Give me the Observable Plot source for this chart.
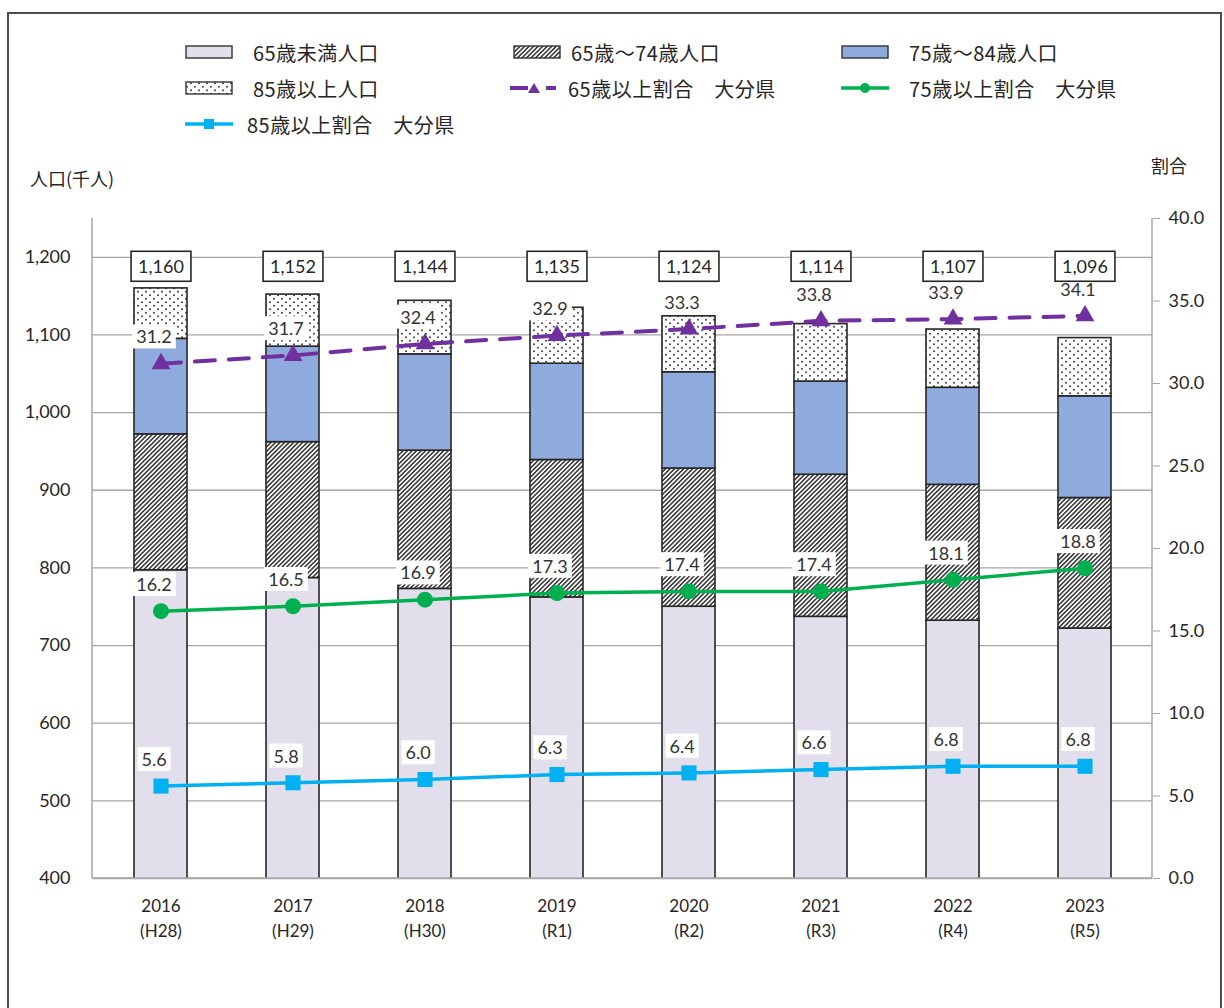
<!DOCTYPE html>
<html><head><meta charset="utf-8">
<script src="https://cdn.jsdelivr.net/npm/d3@7"></script>
<script src="https://cdn.jsdelivr.net/npm/@observablehq/plot@0.6"></script>
<style>
html,body{margin:0;padding:0;background:#fff;}
body{width:1224px;height:1008px;overflow:hidden;position:relative;font-family:"Noto Sans CJK JP","Noto Sans",sans-serif;color:#262626;}
#frame{position:absolute;left:7px;top:12px;width:1215px;height:1100px;border:2px solid #4d4d4d;border-bottom:none;box-sizing:border-box;pointer-events:none;}
#legend{position:relative;height:150px;width:1224px;}
.item{position:absolute;height:30px;display:flex;align-items:center;font-size:20px;letter-spacing:0.5px;white-space:nowrap;}
.axtitle{position:absolute;font-size:18px;white-space:nowrap;line-height:1;}
#chart{display:block;}
</style>
</head><body>
<svg width="0" height="0" style="position:absolute">
  <defs>
    <pattern id="hatch" width="3.2" height="3.2" patternUnits="userSpaceOnUse" patternTransform="rotate(45)">
      <rect width="3.2" height="3.2" fill="#fff"/>
      <line x1="1.6" y1="0" x2="1.6" y2="3.2" stroke="#1a1a1a" stroke-width="1.35"/>
    </pattern>
    <pattern id="dots" width="8" height="7" patternUnits="userSpaceOnUse">
      <rect width="8" height="7" fill="#fff"/>
      <circle cx="2" cy="1.75" r="0.95" fill="#333"/>
      <circle cx="6" cy="5.25" r="0.95" fill="#333"/>
    </pattern>
  </defs>
</svg>
<div id="frame"></div>
<div id="legend"></div>
<div id="chart"></div>
<script>
// ---------- data ----------
const years = ["2016","2017","2018","2019","2020","2021","2022","2023"];
const eras = ["H28","H29","H30","R1","R2","R3","R4","R5"];
const seriesNames = ["65歳未満人口","65歳～74歳人口","75歳～84歳人口","85歳以上人口"];
const under65 = [797,787,773,762,750,737,732,722];
const age65to74 = [175,175,178,177,178,183,175,168];
const age75to84 = [123,123,124,124,124,120,125,131];
const age85plus = [65,67,69,72,72,74,75,75];
const totals = [1160,1152,1144,1135,1124,1114,1107,1096];
const ratioNames = ["65歳以上割合　大分県","75歳以上割合　大分県","85歳以上割合　大分県"];
const ratio65 = [31.2,31.7,32.4,32.9,33.3,33.8,33.9,34.1];
const ratio75 = [16.2,16.5,16.9,17.3,17.4,17.4,18.1,18.8];
const ratio85 = [5.6,5.8,6.0,6.3,6.4,6.6,6.8,6.8];
const leftTicks = [400,500,600,700,800,900,1000,1100,1200];
const rightTicks = [0,5,10,15,20,25,30,35,40];

// ---------- styles ----------
const Y_MIN = 400, Y_MAX = 1250, R_MAX = 40;
const toLeft = r => Y_MIN + r * (Y_MAX - Y_MIN) / R_MAX;
const fills = {
  "65歳未満人口": "#E3DEEB",
  "65歳～74歳人口": "url(#hatch)",
  "75歳～84歳人口": "#8FAADC",
  "85歳以上人口": "url(#dots)"
};
const lineStyles = [
  {stroke:"#7030A0", dash:"20,14", symbol:"triangle", r:7},
  {stroke:"#00B050", dash:null, symbol:"circle", r:8},
  {stroke:"#00B0F0", dash:null, symbol:"square", r:8.5}
];

// ---------- tables ----------
const seriesValues = [under65, age65to74, age75to84, age85plus];
const barData = [];
seriesNames.forEach((s, i) => seriesValues[i].forEach((v, j) => barData.push({year: years[j], series: s, value: v})));
const totalData = years.map((y, j) => ({year: y, v: totals[j]}));
const ratioSeries = [ratio65, ratio75, ratio85].map(arr => years.map((y, j) => ({year: y, v: arr[j]})));

const lineMarks = [];
ratioSeries.forEach((data, i) => {
  const st = lineStyles[i];
  lineMarks.push(Plot.line(data, {x: "year", y: d => toLeft(d.v), stroke: st.stroke, strokeWidth: i === 0 ? 4 : 3.5, strokeDasharray: st.dash || undefined}));
  lineMarks.push(Plot.dot(data, {x: "year", y: d => toLeft(d.v), symbol: st.symbol, r: st.r, fill: st.stroke, stroke: "none"}));
});
const labelMarks = ratioSeries.map(data =>
  Plot.text(data, {x: "year", y: d => toLeft(d.v), text: d => d.v.toFixed(1), dx: -7, dy: -26, className: "lbl", fill: "#333", fontSize: 18})
);

const plot = Plot.plot({
  width: 1224, height: 858,
  marginTop: 68, marginBottom: 130, marginLeft: 92, marginRight: 72,
  style: {fontFamily: "Lato, 'Noto Sans', sans-serif", fontSize: "18px", color: "#262626", background: "transparent", overflow: "visible"},
  x: {domain: years, paddingInner: 0.6, paddingOuter: 0.3, label: null},
  y: {domain: [Y_MIN, Y_MAX], label: null},
  color: {type: "identity"},
  marks: [
    Plot.gridY(leftTicks, {stroke: "#a6a6a6", strokeOpacity: 1, strokeWidth: 1.3}),
    Plot.barY(barData, {x: "year", y: "value", z: "series", order: seriesNames, fill: d => fills[d.series], stroke: "#262626", strokeWidth: 1.6, clip: true}),
    Plot.axisY(leftTicks, {anchor: "left", tickFormat: d3.format(","), tickSize: 0, tickPadding: 22, fontSize: 18, label: null}),
    Plot.axisY(rightTicks.map(toLeft), {anchor: "right", tickFormat: v => ((v - Y_MIN) * R_MAX / (Y_MAX - Y_MIN)).toFixed(1), tickSize: 7, tickPadding: 9, stroke: "#a6a6a6", fontSize: 18, label: null}),
    Plot.axisX({tickSize: 0, tickPadding: 16, tickFormat: d => `${d}\n(${eras[years.indexOf(d)]})`, lineHeight: 1.45, fontSize: 17, label: null}),
    ...lineMarks,
    ...labelMarks,
    Plot.text(totalData, {x: "year", text: d => d3.format(",")(d.v), frameAnchor: "top", dy: 42, className: "tot", fill: "#262626", fontSize: 18})
  ]
});
document.getElementById("chart").appendChild(plot);

// axis frame lines (from scales)
const xr = plot.scale("x").range, yr = plot.scale("y").range;
const svg = d3.select(plot);
const gAx = svg.append("g").attr("stroke", "#a6a6a6").attr("stroke-width", 1.5);
gAx.append("line").attr("x1", xr[0]).attr("x2", xr[0]).attr("y1", yr[0]).attr("y2", yr[1]);
gAx.append("line").attr("x1", xr[1]).attr("x2", xr[1]).attr("y1", yr[0]).attr("y2", yr[1]);
gAx.append("line").attr("x1", xr[0]).attr("x2", xr[1]).attr("y1", yr[0]).attr("y2", yr[0]);
const barsG = plot.querySelector("g[aria-label='bar']");
if (barsG) barsG.after(gAx.node());

// label backgrounds
function boxify(cls, padX, padY, fill, stroke) {
  plot.querySelectorAll(`g.${cls} text`).forEach(t => {
    const b = t.getBBox();
    const r = document.createElementNS("http://www.w3.org/2000/svg", "rect");
    r.setAttribute("x", b.x - padX); r.setAttribute("y", b.y - padY);
    r.setAttribute("width", b.width + 2 * padX); r.setAttribute("height", b.height + 2 * padY);
    r.setAttribute("fill", fill);
    if (stroke) { r.setAttribute("stroke", stroke); r.setAttribute("stroke-width", 1.6); }
    if (t.getAttribute("transform")) r.setAttribute("transform", t.getAttribute("transform"));
    t.parentNode.insertBefore(r, t);
  });
}
boxify("lbl", 4, 1, "#fff", null);
boxify("tot", 7, 4, "#fff", "#262626");

// ---------- legend ----------
const legend = document.getElementById("legend");
const legendItems = [
  {name: seriesNames[0], kind: "rect", fill: fills[seriesNames[0]], left: 185, top: 52, gap: 20},
  {name: seriesNames[1], kind: "rect", fill: fills[seriesNames[1]], left: 513, top: 52, gap: 10},
  {name: seriesNames[2], kind: "rect", fill: fills[seriesNames[2]], left: 841, top: 52, gap: 20},
  {name: seriesNames[3], kind: "rect", fill: fills[seriesNames[3]], left: 185, top: 88, gap: 20},
  {name: ratioNames[0], kind: "line", st: lineStyles[0], left: 510, top: 88, gap: 10},
  {name: ratioNames[1], kind: "line", st: lineStyles[1], left: 841, top: 88, gap: 20},
  {name: ratioNames[2], kind: "line", st: lineStyles[2], left: 185, top: 124, gap: 14}
];
legendItems.forEach(it => {
  const div = document.createElement("div");
  div.className = "item";
  div.style.left = it.left + "px";
  div.style.top = (it.top - 15) + "px";
  let sw;
  if (it.kind === "rect") {
    sw = `<svg width="48" height="20"><rect x="1" y="4" width="46" height="12" fill="${it.fill}" stroke="#333" stroke-width="1.4"/></svg>`;
  } else {
    const st = it.st;
    let marker;
    if (st.symbol === "triangle") marker = `<path d="M24,5 L30,15 L18,15 Z" fill="${st.stroke}"/>`;
    else if (st.symbol === "circle") marker = `<circle cx="24" cy="10" r="5" fill="${st.stroke}"/>`;
    else marker = `<rect x="19" y="5" width="10" height="10" fill="${st.stroke}"/>`;
    const line = st.dash
      ? `<line x1="0" y1="10" x2="18" y2="10" stroke="${st.stroke}" stroke-width="4"/><line x1="36" y1="10" x2="46" y2="10" stroke="${st.stroke}" stroke-width="4"/>`
      : `<line x1="0" y1="10" x2="48" y2="10" stroke="${st.stroke}" stroke-width="3.5"/>`;
    sw = `<svg width="48" height="20">${line}${marker}</svg>`;
  }
  div.innerHTML = sw + `<span style="margin-left:${it.gap}px">${it.name}</span>`;
  legend.appendChild(div);
});

// axis titles
const t1 = document.createElement("div");
t1.className = "axtitle"; t1.textContent = "人口(千人)";
t1.style.left = "30px"; t1.style.top = "169px";
document.body.appendChild(t1);
const t2 = document.createElement("div");
t2.className = "axtitle"; t2.textContent = "割合";
t2.style.left = "1151px"; t2.style.top = "156px";
document.body.appendChild(t2);
</script>
</body></html>
